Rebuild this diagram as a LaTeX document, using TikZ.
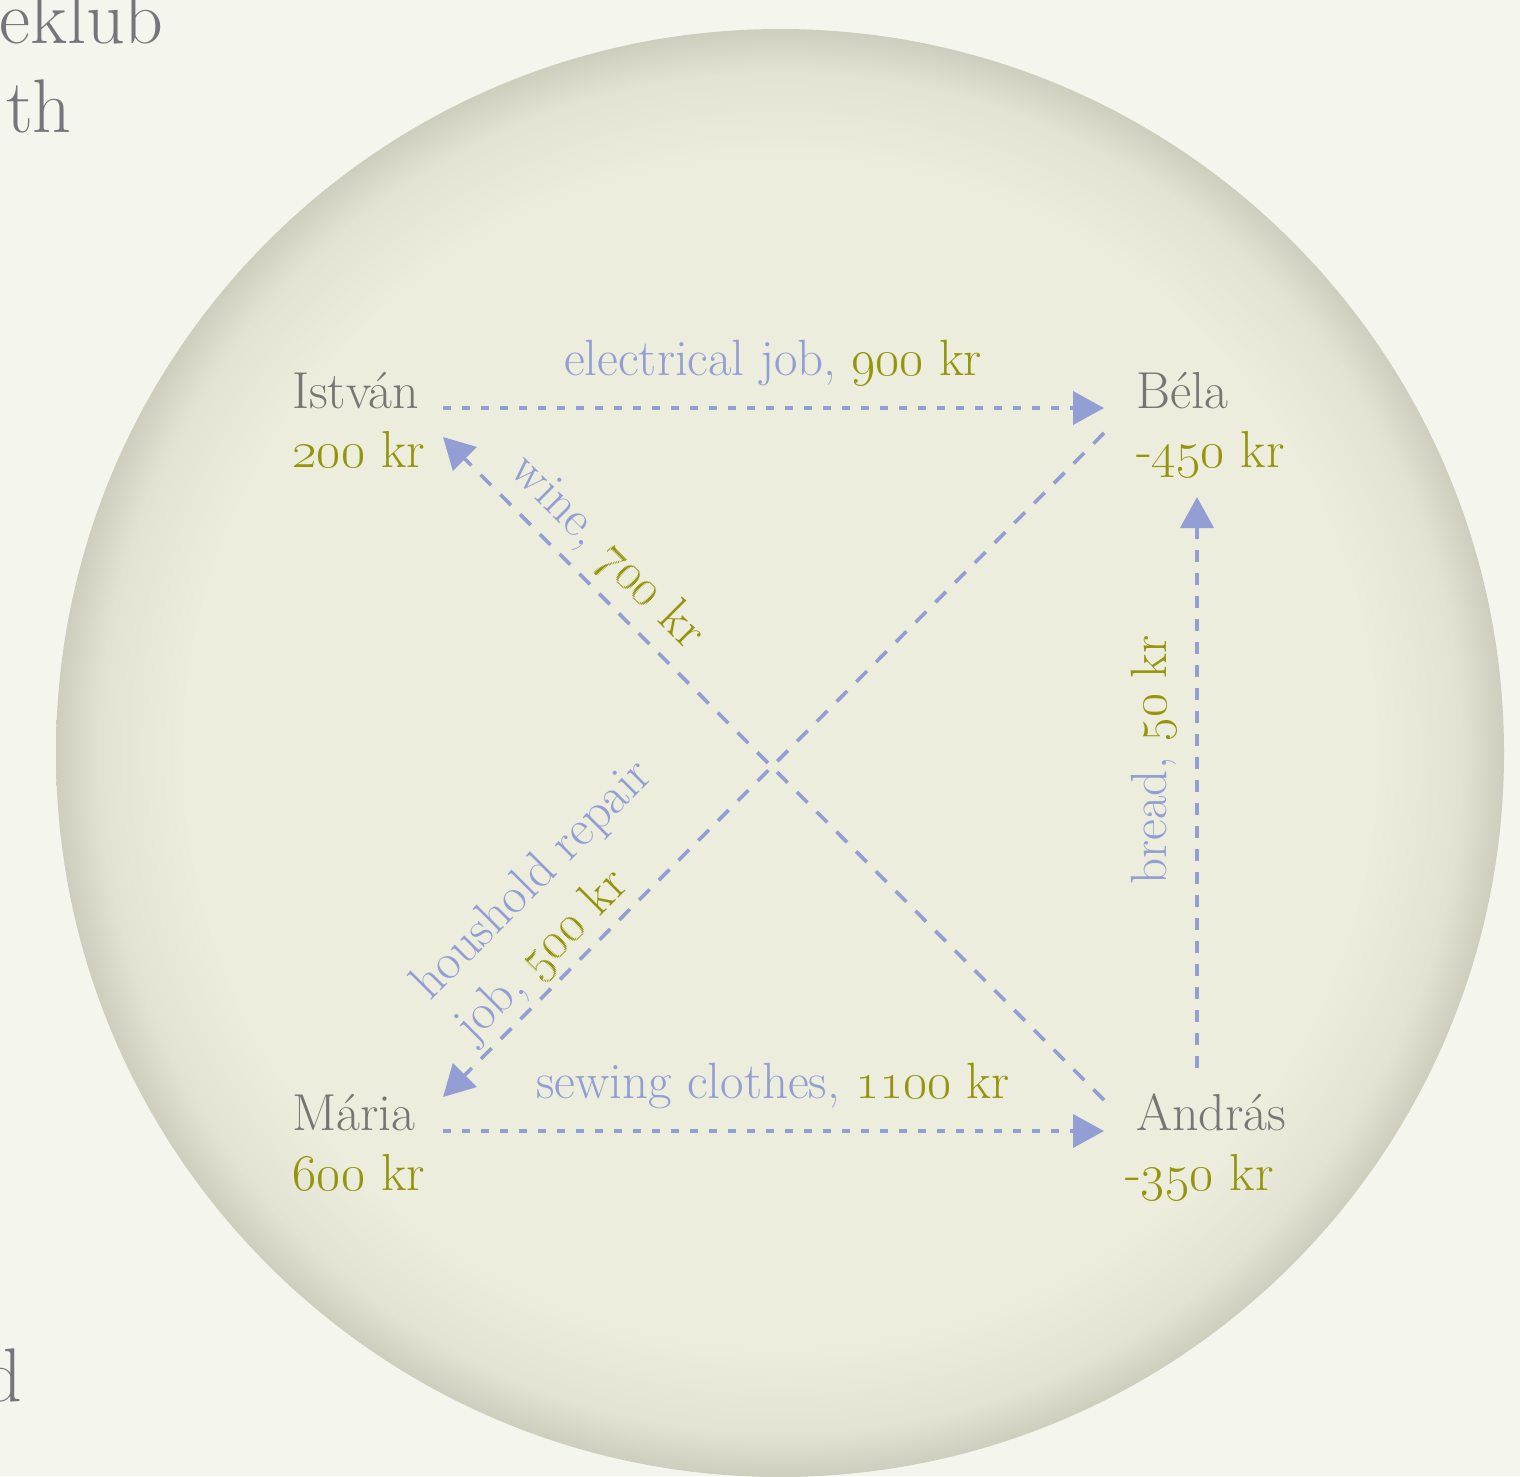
\RequirePackage{fix-cm}
\documentclass[tikz,border=0pt]{standalone}
\usetikzlibrary{arrows.meta}
\definecolor{bgc}{RGB}{244,245,237}
\definecolor{cin}{RGB}{236,237,221}
\definecolor{cmid}{RGB}{226,227,210}
\definecolor{cout}{RGB}{205,206,189}
\definecolor{namec}{RGB}{118,118,116}
\definecolor{amtc}{RGB}{148,149,12}
\definecolor{edgec}{RGB}{146,158,212}
\definecolor{pagec}{RGB}{118,118,122}
\pgfdeclareradialshading{disc}{\pgfpoint{0bp}{0bp}}{color(0bp)=(cin); color(20.5bp)=(cin); color(23.5bp)=(cmid); color(25bp)=(cout); color(50bp)=(cout)}
\newcommand{\amt}[1]{\textcolor{amtc}{#1}}
\newcommand{\osn}[1]{\oldstylenums{#1}}
\tikzset{
  pagetext/.style={text=pagec, inner sep=0pt, font=\fontsize{76}{90}\selectfont},
  person/.style={text=namec, inner sep=0pt, anchor=base west, font=\fontsize{52}{62}\selectfont},
  money/.style={text=amtc, inner sep=0pt, anchor=base west, font=\fontsize{52}{62}\selectfont},
  lbl/.style={text=edgec, inner sep=0pt, font=\fontsize{51}{60}\selectfont},
  flow/.style={draw=edgec, line width=4pt, -{Triangle[length=31pt,width=33pt]}},
  hflow/.style={flow, dash pattern=on 8pt off 11pt},
  vflow/.style={flow, dash pattern=on 12pt off 11pt},
  dflow/.style={flow, line width=3.6pt, dash pattern=on 15pt off 13pt}
}
\begin{document}
\begin{tikzpicture}[x=1pt,y=-1pt]
\useasboundingbox (0,0) rectangle (1520,1476);
\fill[bgc] (0,0) rectangle (1520,1476);
\shade[shading=disc] (780,753) circle[radius=724pt];

% page text cut at the margin
\node[pagetext, anchor=base east] (p1) at (164,43) {eklub};
\node[pagetext, anchor=base east] (p2) at (72,132) {th};
\node[pagetext, anchor=base east] (p3) at (23,1401) {d};

% people and balances
\node[person] (istvan) at (292,408) {István};
\node[money]  (istvanm) at (292,467) {\osn{200} kr};
\node[person] (bela) at (1136,408) {Béla};
\node[money]  (belam) at (1136,467) {-\osn{450} kr};
\node[person] (maria) at (292,1130) {Mária};
\node[money]  (mariam) at (292,1190) {\osn{600} kr};
\node[person] (andras) at (1136,1130) {András};
\node[money]  (andrasm) at (1125,1190) {-\osn{350} kr};

% connector end points
\coordinate (ist-e) at (443,408);
\coordinate (ist-se) at (443,437);
\coordinate (bel-w) at (1104,408);
\coordinate (bel-sw) at (1104,433);
\coordinate (bel-s) at (1197,497);
\coordinate (mar-ne) at (443,1097);
\coordinate (mar-e) at (443,1131);
\coordinate (and-w) at (1104,1131);
\coordinate (and-nw) at (1104,1100);
\coordinate (and-n) at (1197,1068);

% connectors
\draw[hflow] (ist-e) -- (bel-w);
\draw[dflow] (bel-sw) -- (mar-ne);
\draw[dflow] (and-nw) -- (ist-se);
\draw[vflow] (and-n) -- (bel-s);
\draw[hflow] (mar-e) -- (and-w);

% connector labels
\node[lbl, anchor=base] (l1) at (773,375) {electrical job, \amt{\osn{900} kr}};
\node[lbl, anchor=base] (l5) at (773,1098) {sewing clothes, \amt{\osn{1100} kr}};
\node[lbl, anchor=base, rotate=-45] (l3) at (598,562) {wine, \amt{\osn{700} kr}};
\node[lbl, anchor=base, rotate=90] (l4) at (1166,760) {bread, \amt{\osn{50} kr}};
\node[lbl, anchor=base west, rotate=45] (l2a) at (430,1002) {houshold repair};
\node[lbl, anchor=base west, rotate=45] (l2b) at (473,1044) {job, \amt{\osn{500} kr}};
\end{tikzpicture}
\end{document}
